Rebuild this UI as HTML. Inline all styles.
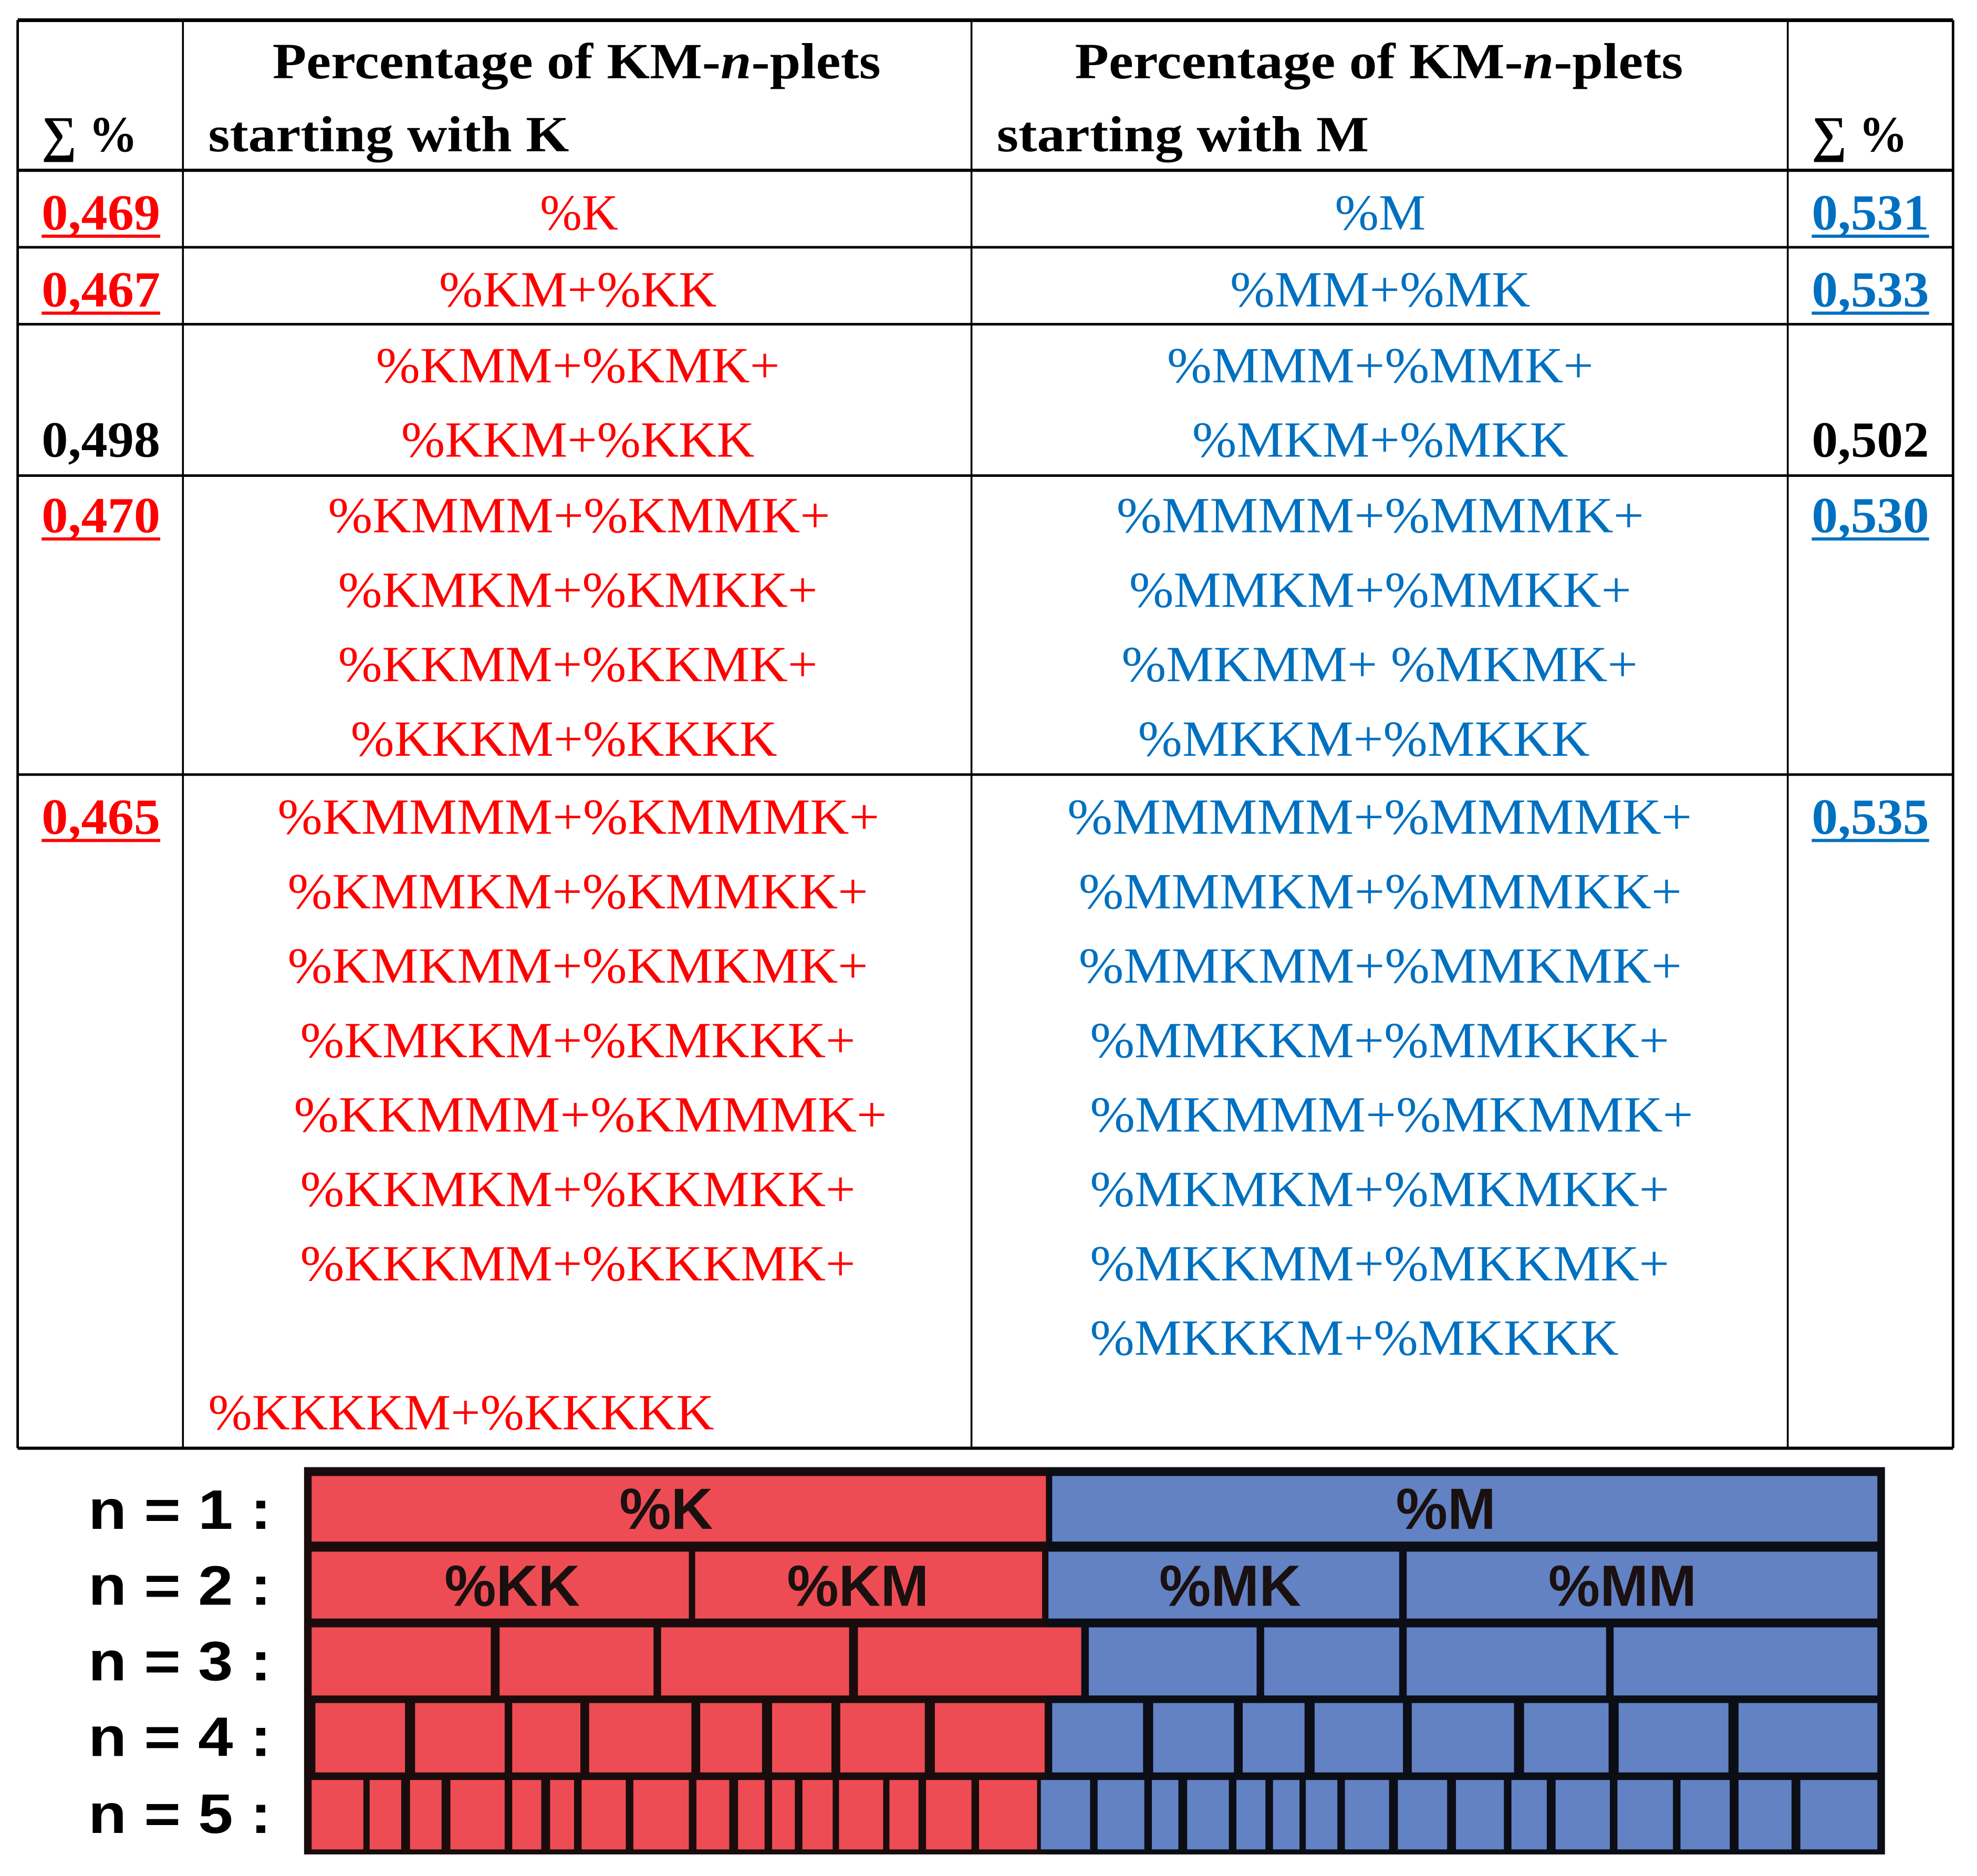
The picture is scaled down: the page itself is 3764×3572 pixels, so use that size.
<!DOCTYPE html>
<html><head><meta charset="utf-8"><style>
html,body{margin:0;padding:0;background:#fff;}
svg{display:block;}
.h{font-family:"Liberation Serif",serif;font-weight:bold;font-size:40px;fill:#000;}
.r{font-family:"Liberation Serif",serif;font-size:40px;fill:#ff0000;}
.b{font-family:"Liberation Serif",serif;font-size:40px;fill:#0070c0;}
.k{font-family:"Liberation Serif",serif;font-weight:bold;font-size:40px;}
.n{font-family:"Liberation Sans",sans-serif;font-weight:bold;font-size:44px;fill:#000;}
.lbl{font-family:"Liberation Sans",sans-serif;font-weight:bold;font-size:46px;fill:#1a1010;}
</style></head><body>
<svg id="svg" width="3764" height="3572" viewBox="0 0 1567 1487.1" preserveAspectRatio="none" xmlns="http://www.w3.org/2000/svg">
<g id="table" stroke="#000" fill="none">
  <line x1="14" y1="16" x2="1548" y2="16" stroke-width="3"/>
  <line x1="14" y1="135" x2="1548" y2="135" stroke-width="2.5"/>
  <line x1="14" y1="196" x2="1548" y2="196" stroke-width="2"/>
  <line x1="14" y1="257" x2="1548" y2="257" stroke-width="2"/>
  <line x1="14" y1="377" x2="1548" y2="377" stroke-width="2"/>
  <line x1="14" y1="614" x2="1548" y2="614" stroke-width="2"/>
  <line x1="14" y1="1148" x2="1548" y2="1148" stroke-width="2.5"/>
  <line x1="14" y1="16" x2="14" y2="1148" stroke-width="2"/>
  <line x1="145" y1="16" x2="145" y2="1148" stroke-width="1.5"/>
  <line x1="770" y1="16" x2="770" y2="1148" stroke-width="1.5"/>
  <line x1="1417" y1="16" x2="1417" y2="1148" stroke-width="1.5"/>
  <line x1="1548" y1="16" x2="1548" y2="1148" stroke-width="2"/>
</g>
<g>
  <text class="h" x="216" y="62" textLength="482" lengthAdjust="spacingAndGlyphs">Percentage of KM-<tspan font-style="italic">n</tspan>-plets</text>
  <text class="h" x="165" y="120" textLength="286" lengthAdjust="spacingAndGlyphs">starting with K</text>
  <text class="h" x="852" y="62" textLength="482" lengthAdjust="spacingAndGlyphs">Percentage of KM-<tspan font-style="italic">n</tspan>-plets</text>
  <text class="h" x="790" y="120" textLength="295" lengthAdjust="spacingAndGlyphs">starting with M</text>
  <text class="h" x="33" y="120" textLength="76" lengthAdjust="spacingAndGlyphs">∑ %</text>
  <text class="h" x="1436" y="120" textLength="76" lengthAdjust="spacingAndGlyphs">∑ %</text>
</g>
<g id="cells"></g>
<g id="mosaic">
  <rect x="241" y="1163" width="1253" height="307" fill="#1a0c0c"/>
  <rect x="830" y="1163" width="664" height="307" fill="#0c0e16"/>
</g>
</svg>
<script>
const sumsK = ["0,469","0,467","0,498","0,470","0,465"];
const sumsM = ["0,531","0,533","0,502","0,530","0,535"];
const underlined = [true,true,false,true,true];
const sumBaselines = [182,243,362,422,661];
const kLines = [
 ["%K",428,490,182],["%KM+%KK",348,568,243],
 ["%KMM+%KMK+",298,618,303],["%KKM+%KKK",318,598,362],
 ["%KMMM+%KMMK+",260,658,422],["%KMKM+%KMKK+",268,648,481],["%KKMM+%KKMK+",268,648,540],["%KKKM+%KKKK",278,616,599],
 ["%KMMMM+%KMMMK+",220,697,661],["%KMMKM+%KMMKK+",228,688,720],["%KMKMM+%KMKMK+",228,688,779],["%KMKKM+%KMKKK+",238,678,838],
 ["%KKMMM+%KMMMK+",233,703,897],["%KKMKM+%KKMKK+",238,678,956],["%KKKMM+%KKKMK+",238,678,1015],["%KKKKM+%KKKKK",165,566,1133]
];
const mLines = [
 ["%M",1058,1130,182],["%MM+%MK",975,1213,243],
 ["%MMM+%MMK+",925,1263,303],["%MKM+%MKK",945,1243,362],
 ["%MMMM+%MMMK+",885,1303,422],["%MMKM+%MMKK+",895,1293,481],["%MKMM+ %MKMK+",889,1298,540],["%MKKM+%MKKK",902,1260,599],
 ["%MMMMM+%MMMMK+",846,1341,661],["%MMMKM+%MMMKK+",855,1333,720],["%MMKMM+%MMKMK+",855,1333,779],["%MMKKM+%MMKKK+",864,1323,838],
 ["%MKMMM+%MKMMK+",864,1342,897],["%MKMKM+%MKMKK+",864,1323,956],["%MKKMM+%MKKMK+",864,1323,1015],["%MKKKM+%MKKKK",864,1283,1074]
];
const rowTops = [1170,1230,1290,1350,1411];
const rowBottoms = [1222,1283,1344,1405,1466];
const redSegs = [
 [[247,829]],
 [[247,546],[551,826]],
 [[247,389],[396,518],[524,673],[680,857]],
 [[250,321],[329,400],[406,460],[467,548],[555,604],[612,659],[666,733],[741,828]],
 [[247,288],[293,318],[325,350],[357,400],[406,429],[436,455],[461,496],[502,546],[552,578],[585,606],[612,630],[636,660],[665,700],[705,728],[734,770],[776,822]]
];
const blueSegs = [
 [[834,1488]],
 [[831,1109],[1115,1488]],
 [[863,996],[1002,1109],[1115,1273],[1279,1488]],
 [[834,906],[914,978],[985,1034],[1042,1112],[1119,1200],[1208,1275],[1283,1370],[1378,1488]],
 [[825,864],[870,907],[913,934],[941,974],[980,1003],[1009,1030],[1035,1060],[1066,1101],[1108,1147],[1154,1192],[1198,1226],[1233,1276],[1282,1326],[1332,1371],[1378,1420],[1427,1488]]
];
const boxLabels = [["%K",528,1212],["%M",1146,1212],["%KK",406,1273],["%KM",680,1273],["%MK",975,1273],["%MM",1286,1273]];
const rowLabels = ["n = 1 :","n = 2 :","n = 3 :","n = 4 :","n = 5 :"];

const NS="http://www.w3.org/2000/svg";
const cells=document.getElementById('cells');
const mosaic=document.getElementById('mosaic');
function mk(tag,parent){const e=document.createElementNS(NS,tag);parent.appendChild(e);return e;}
function txt(parent,cls,x,y,s,w,fill){const t=mk('text',parent);t.setAttribute('class',cls);t.setAttribute('x',x);t.setAttribute('y',y);if(w){t.setAttribute('textLength',w);t.setAttribute('lengthAdjust','spacingAndGlyphs');}if(fill)t.style.fill=fill;t.textContent=s;return t;}

sumsK.forEach((s,i)=>{
  const c=underlined[i]?'#ff0000':'#000';
  const t=txt(cells,'k',33,sumBaselines[i],s,94,c);
  
  
  if(underlined[i]){const l=mk('rect',cells);l.setAttribute('x',33);l.setAttribute('y',sumBaselines[i]+4);l.setAttribute('width',94);l.setAttribute('height',2.5);l.setAttribute('fill',c);}
});
sumsM.forEach((s,i)=>{
  const c=underlined[i]?'#0070c0':'#000';
  const t=txt(cells,'k',1436,sumBaselines[i],s,93,c);
  
  
  if(underlined[i]){const l=mk('rect',cells);l.setAttribute('x',1436);l.setAttribute('y',sumBaselines[i]+4);l.setAttribute('width',93);l.setAttribute('height',2.5);l.setAttribute('fill',c);}
});
kLines.forEach(d=>{const t=txt(cells,'r',d[1],d[3],d[0],d[2]-d[1]);
  
  });
mLines.forEach(d=>{const t=txt(cells,'b',d[1],d[3],d[0],d[2]-d[1]);
  
  });

function seg(arr,color,name){
  arr.forEach((row,r)=>row.forEach(s=>{
    const e=mk('rect',mosaic);
    e.setAttribute('x',s[0]);e.setAttribute('y',rowTops[r]);
    e.setAttribute('width',s[1]-s[0]);e.setAttribute('height',rowBottoms[r]-rowTops[r]);
    e.setAttribute('fill',color);
    
    
  }));
}
seg(redSegs,'#ee4c54','k-segment');
seg(blueSegs,'#6282c4','m-segment');
boxLabels.forEach(b=>{const t=txt(mosaic,'lbl',b[1],b[2],b[0]);t.setAttribute('text-anchor','middle');
  
  });
rowLabels.forEach((s,i)=>{const t=txt(mosaic,'n',70,rowTops[i]+42,s,145);
  
  });
</script>
</body></html>
